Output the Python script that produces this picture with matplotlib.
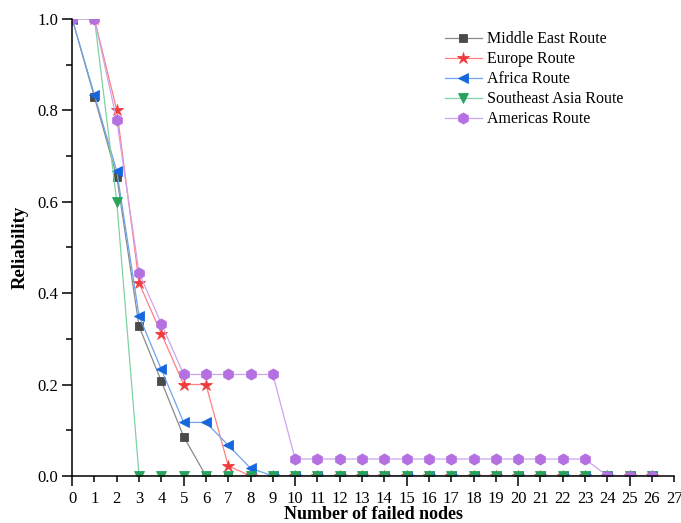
import matplotlib.pyplot as plt
from matplotlib.ticker import MultipleLocator, FormatStrFormatter

plt.rcParams['font.family'] = ['Liberation Serif', 'DejaVu Serif']

nodes = list(range(27))

middle_east = [1.0, 0.828, 0.655, 0.327, 0.207, 0.086] + [0.0] * 21
europe = [1.0, 1.0, 0.8, 0.422, 0.311, 0.2, 0.2, 0.022] + [0.0] * 19
africa = [1.0, 0.833, 0.667, 0.35, 0.233, 0.117, 0.117, 0.067, 0.017] + [0.0] * 18
southeast_asia = [1.0, 1.0, 0.6] + [0.0] * 24
americas = ([1.0, 1.0, 0.778, 0.444, 0.333] + [0.222] * 5 + [0.037] * 14
            + [0.0] * 3)

series = [
    ('Middle East Route', middle_east, 's', '#4a4a4a', '#8a8a8a', 6),
    ('Europe Route', europe, '*', '#f03c3c', '#ff8080', 9),
    ('Africa Route', africa, '<', '#1667dd', '#6fa3ee', 7.5),
    ('Southeast Asia Route', southeast_asia, 'v', '#27a35e', '#7fd3a0', 7.5),
    ('Americas Route', americas, 'h', '#b46fe0', '#cda4ee', 8),
]

fig = plt.figure(figsize=(6.81, 5.23), dpi=100)
ax = fig.add_axes([0.106, 0.09, 0.884, 0.874])

for name, vals, mk, dark, light, ms in series:
    ax.plot(nodes, vals, color=light, linewidth=0.9, marker=mk, markersize=ms,
            markerfacecolor=dark, markeredgecolor=dark, markeredgewidth=0.6,
            label=name)

ax.set_xlim(0, 27)
ax.set_ylim(0, 1.0)

ax.xaxis.set_major_locator(MultipleLocator(5))
ax.xaxis.set_minor_locator(MultipleLocator(1))
ax.xaxis.set_major_formatter(FormatStrFormatter('%d'))
ax.xaxis.set_minor_formatter(FormatStrFormatter('%d'))
ax.yaxis.set_major_locator(MultipleLocator(0.2))
ax.yaxis.set_minor_locator(MultipleLocator(0.1))
ax.yaxis.set_major_formatter(FormatStrFormatter('%.1f'))

ax.tick_params(axis='x', which='major', direction='out', length=7, width=1.1,
               labelsize=12, pad=4)
ax.tick_params(axis='x', which='minor', direction='out', length=4, width=1.1,
               labelsize=12, pad=7)
ax.tick_params(axis='y', which='major', direction='out', length=7, width=1.1,
               labelsize=12, pad=3)
ax.tick_params(axis='y', which='minor', direction='out', length=4, width=1.1)

ax.spines['top'].set_visible(False)
ax.spines['right'].set_visible(False)
ax.spines['left'].set_linewidth(1.1)
ax.spines['bottom'].set_linewidth(1.1)

ax.set_xlabel('Number of failed nodes', fontsize=13, fontweight='bold',
              labelpad=-1)
ax.set_ylabel('Reliability', fontsize=13.5, fontweight='bold', labelpad=6)

ax.legend(loc='upper left', bbox_to_anchor=(0.6535, 0.94),
          bbox_transform=fig.transFigure, borderaxespad=0, borderpad=0,
          frameon=False, fontsize=11.5, handlelength=2.3, handletextpad=0.3,
          labelspacing=0.25)

fig.savefig('out.png', dpi=100)
